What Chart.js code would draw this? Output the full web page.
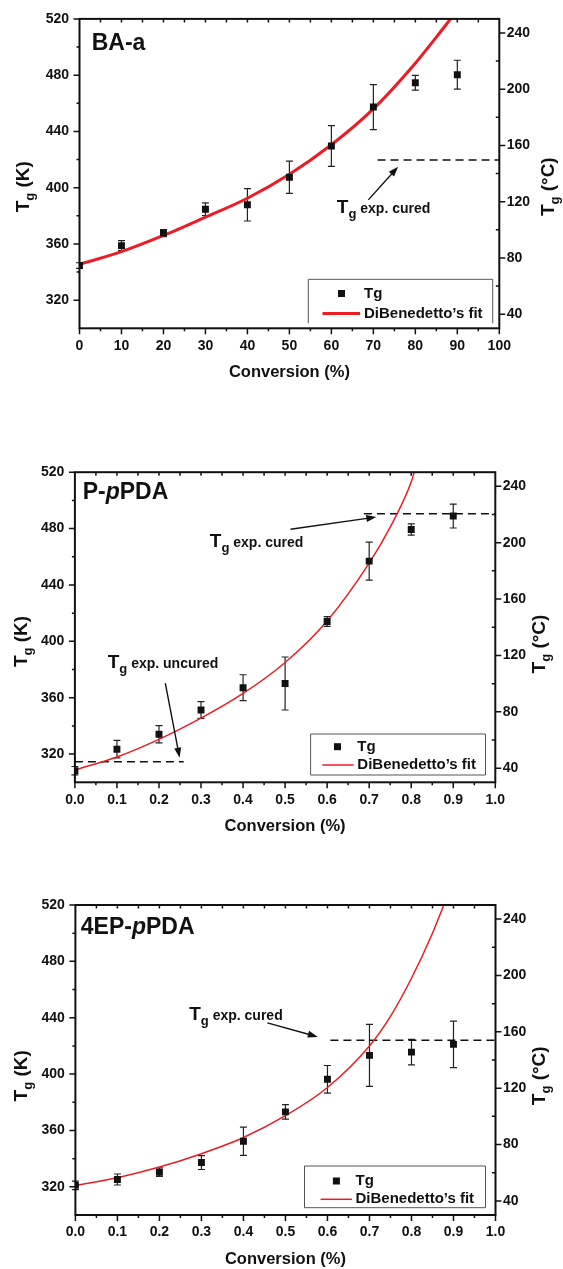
<!DOCTYPE html>
<html>
<head>
<title>Tg versus conversion</title>
<style>
  body { margin: 0; background: #fff; }
  .panel { position: absolute; left: 0; }
</style>
<script src="https://cdn.jsdelivr.net/npm/chart.js"></script>
</head>
<body>
<canvas id="chartBA" class="panel" width="563" height="400" style="top:0px"></canvas>
<canvas id="chartPP" class="panel" width="563" height="400" style="top:440px"></canvas>
<canvas id="chartEP" class="panel" width="563" height="399" style="top:870px"></canvas>
<script>
const FONT = "'Liberation Sans', Arial, Helvetica, sans-serif";
const INK = '#111';
const RED = '#ed1c24';

// tick values
const kTicks = [320, 360, 400, 440, 480, 520];
const cTicks = [40, 80, 120, 160, 200, 240];
const pctTicks = [0, 10, 20, 30, 40, 50, 60, 70, 80, 90, 100];
const fracTicks = [0, 0.1, 0.2, 0.3, 0.4, 0.5, 0.6, 0.7, 0.8, 0.9, 1.0];

// BA-a
const baConv = [0, 10, 20, 30, 40, 50, 60, 70, 80, 90];
const baTg = [344.6, 358.8, 367.7, 384.7, 387.8, 407.4, 429.6, 457.3, 474.6, 480.3];
const baErr = [2, 3.5, 2.5, 4.5, 11.5, 11.5, 14.5, 16, 5.3, 10.3];
const baFitConv = [0, 10, 20, 30, 40, 50, 60, 70, 80, 85, 88.4];
const baFitTg = [345.5, 354.5, 366, 379, 392.5, 409.5, 430.5, 456, 488.5, 507, 520];
const baCured = 419.7;

// P-pPDA
const ppConv = [0, 0.1, 0.2, 0.3, 0.4, 0.5, 0.6, 0.7, 0.8, 0.9];
const ppTg = [308.2, 323.5, 334.1, 351.3, 367.1, 370.1, 414.1, 456.9, 479.3, 488.9];
const ppErr = [3, 6.2, 6.1, 5.9, 9.2, 18.8, 3.5, 13.5, 4, 8.5];
const ppFitConv = [0, 0.1, 0.2, 0.3, 0.4, 0.5, 0.6, 0.7, 0.75, 0.8, 0.807];
const ppFitTg = [308.7, 318, 330.5, 345.5, 363, 385, 414.5, 455.5, 481, 513, 520];
const ppCured = 490.5;
const ppUncured = 314.5;

// 4EP-pPDA
const epConv = [0, 0.1, 0.2, 0.3, 0.4, 0.5, 0.6, 0.7, 0.8, 0.9];
const epTg = [321, 325.2, 330.4, 337.2, 352.3, 373.2, 396.3, 413.3, 415.6, 421.1];
const epErr = [3, 3.9, 3, 4.9, 10, 5.2, 9.8, 22, 9.1, 16.5];
const epFitConv = [0, 0.1, 0.2, 0.3, 0.4, 0.5, 0.6, 0.7, 0.75, 0.8, 0.85, 0.877];
const epFitTg = [321, 326.5, 334, 343.5, 355, 370.5, 390.5, 420, 441, 468, 500, 520];
const epCured = 424;

// draws T with subscript g followed by the rest of the label, returns width
function tgText(ctx, x0, base, rest, bigSize, restSize, dry) {
  ctx.font = `bold ${bigSize}px ${FONT}`;
  const wT = ctx.measureText('T').width;
  if (!dry) ctx.fillText('T', x0, base);
  ctx.font = `bold 13px ${FONT}`;
  const wg = ctx.measureText('g').width;
  if (!dry) ctx.fillText('g', x0 + wT, base + 5);
  ctx.font = `bold ${restSize}px ${FONT}`;
  const wr = ctx.measureText(rest).width;
  if (!dry) ctx.fillText(rest, x0 + wT + wg, base);
  return wT + wg + wr;
}

function sideTitle(ctx, bx, cy, rest) {
  ctx.save();
  ctx.textAlign = 'left';
  ctx.textBaseline = 'alphabetic';
  const w = tgText(ctx, 0, 0, rest, 19, 19, true);
  ctx.translate(bx, cy);
  ctx.rotate(-Math.PI / 2);
  tgText(ctx, -w / 2, 0, rest, 19, 19, false);
  ctx.restore();
}

function arrow(ctx, x1, y1, x2, y2) {
  const a = Math.atan2(y2 - y1, x2 - x1);
  const c = Math.cos(a), s = Math.sin(a);
  ctx.beginPath();
  ctx.moveTo(x1, y1);
  ctx.lineTo(x2 - 6 * c, y2 - 6 * s);
  ctx.stroke();
  ctx.beginPath();
  ctx.moveTo(x2, y2);
  ctx.lineTo(x2 - 10 * c + 3.5 * s, y2 - 10 * s - 3.5 * c);
  ctx.lineTo(x2 - 10 * c - 3.5 * s, y2 - 10 * s + 3.5 * c);
  ctx.closePath();
  ctx.fill();
}

function decor(p) {
  return {
    id: 'decor',
    beforeDatasetsDraw(chart) {
      const { ctx, scales: { x, y } } = chart;
      ctx.save();
      ctx.strokeStyle = '#222';
      ctx.lineWidth = 1.2;
      ctx.beginPath();
      p.conv.forEach((c, i) => {
        const px = x.getPixelForValue(c);
        const hi = y.getPixelForValue(p.tg[i] + p.err[i]);
        const lo = y.getPixelForValue(p.tg[i] - p.err[i]);
        ctx.moveTo(px, hi); ctx.lineTo(px, lo);
        ctx.moveTo(px - 3.5, hi); ctx.lineTo(px + 3.5, hi);
        ctx.moveTo(px - 3.5, lo); ctx.lineTo(px + 3.5, lo);
      });
      ctx.stroke();
      ctx.restore();
    },
    afterDraw(chart) {
      const { ctx, chartArea: a, scales: { x, y, y2 } } = chart;
      ctx.save();
      ctx.strokeStyle = INK;
      ctx.fillStyle = INK;

      // frame
      ctx.lineWidth = 2;
      ctx.strokeRect(a.left, a.top, a.right - a.left, a.bottom - a.top);

      // major and minor tick marks
      ctx.lineWidth = 1.5;
      ctx.beginPath();
      const seg = (x1, y1, x2, y2b) => { ctx.moveTo(x1, y1); ctx.lineTo(x2, y2b); };
      const xt = p.xTicks;
      xt.forEach((v, i) => {
        const px = x.getPixelForValue(v);
        seg(px, a.bottom, px, a.bottom + 6);
        if (i > 0 && i < xt.length - 1) seg(px, a.top, px, a.top + 3.5);
        if (i < xt.length - 1) {
          const mx = x.getPixelForValue((v + xt[i + 1]) / 2);
          seg(mx, a.bottom, mx, a.bottom + 3);
          seg(mx, a.top, mx, a.top + 3.5);
        }
      });
      kTicks.forEach((v, i) => {
        const py = y.getPixelForValue(v);
        seg(a.left - 6, py, a.left, py);
        if (i < kTicks.length - 1) {
          const my = y.getPixelForValue(v + 20);
          seg(a.left - 3, my, a.left, my);
        }
      });
      cTicks.forEach((v, i) => {
        const py = y2.getPixelForValue(v);
        seg(a.right, py, a.right + 6, py);
        if (i < cTicks.length - 1) {
          const my = y2.getPixelForValue(v + 20);
          seg(a.right - 3.5, my, a.right, my);
        }
      });
      ctx.stroke();

      // arrows to the dashed reference levels
      ctx.lineWidth = 1.4;
      p.arrows.forEach(r => {
        arrow(ctx, x.getPixelForValue(r[0]), y.getPixelForValue(r[1]),
              x.getPixelForValue(r[2]), y.getPixelForValue(r[3]));
      });

      // annotation text
      ctx.textAlign = 'left';
      ctx.textBaseline = 'alphabetic';
      p.notes.forEach(n => {
        tgText(ctx, x.getPixelForValue(n.x), y.getPixelForValue(n.y), n.text, 19, 14, false);
      });

      // sample name
      let nx = p.name.x;
      p.name.parts.forEach(part => {
        ctx.font = `${part.italic ? 'italic ' : ''}bold 23px ${FONT}`;
        ctx.fillText(part.t, nx, p.name.base);
        nx += ctx.measureText(part.t).width;
      });

      // axis titles
      sideTitle(ctx, p.leftTitle.x, p.leftTitle.y, ' (K)');
      sideTitle(ctx, p.rightTitle.x, p.rightTitle.y, ' (\u00B0C)');
      ctx.font = `bold 16.5px ${FONT}`;
      ctx.textAlign = 'center';
      ctx.textBaseline = 'middle';
      ctx.fillText('Conversion (%)', (a.left + a.right) / 2, a.bottom + 44);

      // legend
      const L = p.legend;
      ctx.strokeStyle = '#555';
      ctx.lineWidth = 1;
      ctx.beginPath();
      if (L.open) {
        ctx.moveTo(L.x, L.y + L.h); ctx.lineTo(L.x, L.y);
        ctx.lineTo(L.x + L.w, L.y); ctx.lineTo(L.x + L.w, L.y + L.h);
      } else {
        ctx.rect(L.x, L.y, L.w, L.h);
      }
      ctx.stroke();
      ctx.fillStyle = INK;
      ctx.fillRect(L.mx - 3.5, L.my - 3.5, 7, 7);
      ctx.strokeStyle = RED;
      ctx.lineWidth = p.fitWidth;
      ctx.beginPath();
      ctx.moveTo(L.lx0, L.ly); ctx.lineTo(L.lx1, L.ly);
      ctx.stroke();
      ctx.font = `bold 15px ${FONT}`;
      ctx.textAlign = 'left';
      ctx.textBaseline = 'middle';
      ctx.fillText('Tg', L.tx, L.my);
      ctx.fillText('DiBenedetto\u2019s fit', L.tx, L.ly);
      ctx.restore();
    }
  };
}

function buildPanel(id, p) {
  const pts = p.conv.map((c, i) => ({ x: c, y: p.tg[i] }));
  const fit = p.fitConv.map((c, i) => ({ x: c, y: p.fitTg[i] }));
  const dashed = p.dashes.map(d => ({
    data: [{ x: d[0], y: d[2] }, { x: d[1], y: d[2] }],
    showLine: true, borderColor: INK, borderWidth: 1.5, borderDash: [8, 5],
    pointRadius: 0
  }));
  const tickFont = { size: 14, weight: 'bold', family: FONT };
  new Chart(document.getElementById(id), {
    type: 'scatter',
    data: {
      datasets: [
        { label: 'Tg', data: pts, pointStyle: 'rect', pointRadius: 4.9,
          pointBackgroundColor: INK, pointBorderWidth: 0, showLine: false },
        { label: 'DiBenedetto\u2019s fit', data: fit, showLine: true,
          borderColor: RED, borderWidth: p.fitWidth, pointRadius: 0,
          cubicInterpolationMode: 'monotone' },
        ...dashed
      ]
    },
    options: {
      responsive: false,
      animation: false,
      events: [],
      layout: { padding: { top: p.area.top, left: 0, right: 0, bottom: 0 } },
      plugins: { legend: { display: false }, tooltip: { enabled: false } },
      scales: {
        x: {
          type: 'linear', position: 'bottom', min: 0, max: p.xTicks[p.xTicks.length - 1],
          afterBuildTicks: s => { s.ticks = p.xTicks.map(v => ({ value: v })); },
          afterFit: s => { s.height = p.height - p.area.bottom; },
          grid: { display: false, drawTicks: false }, border: { display: false },
          ticks: { font: tickFont, color: INK, padding: 9, autoSkip: false, maxRotation: 0,
                   callback: p.xFmt }
        },
        y: {
          type: 'linear', position: 'left', min: 300, max: 520,
          afterBuildTicks: s => { s.ticks = kTicks.map(v => ({ value: v })); },
          afterFit: s => { s.width = p.area.left; },
          grid: { display: false, drawTicks: false }, border: { display: false },
          ticks: { font: tickFont, color: INK, padding: 10.5, autoSkip: false }
        },
        y2: {
          type: 'linear', position: 'right', min: 30, max: 250,
          afterBuildTicks: s => { s.ticks = cTicks.map(v => ({ value: v })); },
          afterFit: s => { s.width = 563 - p.area.right; },
          grid: { display: false, drawTicks: false }, border: { display: false },
          ticks: { font: tickFont, color: INK, padding: 7.5, autoSkip: false }
        }
      }
    },
    plugins: [decor(p)]
  });
}

buildPanel('chartBA', {
  height: 400,
  area: { left: 79.5, right: 499.3, top: 16.7, bottom: 328.3 },
  xTicks: pctTicks, xFmt: v => String(v),
  conv: baConv, tg: baTg, err: baErr, fitConv: baFitConv, fitTg: baFitTg, fitWidth: 3,
  dashes: [[71, 100, baCured]],
  arrows: [[68.8, 391.3, 75.9, 414.9]],
  notes: [{ x: 61.3, y: 382, text: ' exp. cured' }],
  name: { x: 91.7, base: 49.5, parts: [{ t: 'BA-a' }] },
  leftTitle: { x: 28.7, y: 186.7 },
  rightTitle: { x: 554, y: 186.7 },
  legend: { x: 308.3, y: 279.3, w: 184.4, h: 44, open: true,
            mx: 341.5, my: 293.5, tx: 364, lx0: 322.5, lx1: 360, ly: 313.5 }
});

buildPanel('chartPP', {
  height: 400,
  area: { left: 74.9, right: 495.3, top: 32.2, bottom: 342.3 },
  xTicks: fracTicks, xFmt: v => v.toFixed(1),
  conv: ppConv, tg: ppTg, err: ppErr, fitConv: ppFitConv, fitTg: ppFitTg, fitWidth: 1.5,
  dashes: [[0.6875, 1.0, ppCured], [0, 0.259, ppUncured]],
  arrows: [[0.513, 479.5, 0.717, 488.2], [0.215, 370.4, 0.249, 317.5]],
  notes: [{ x: 0.321, y: 467.2, text: ' exp. cured' }, { x: 0.078, y: 381.3, text: ' exp. uncured' }],
  name: { x: 82.7, base: 59.3, parts: [{ t: 'P-' }, { t: 'p', italic: true }, { t: 'PDA' }] },
  leftTitle: { x: 26.9, y: 201.5 },
  rightTitle: { x: 545, y: 204 },
  legend: { x: 310.6, y: 294, w: 174.9, h: 41, open: false,
            mx: 337.5, my: 306.7, tx: 357.3, lx0: 322.4, lx1: 353.7, ly: 325 }
});

buildPanel('chartEP', {
  height: 399,
  area: { left: 75.4, right: 495.5, top: 35, bottom: 345 },
  xTicks: fracTicks, xFmt: v => v.toFixed(1),
  conv: epConv, tg: epTg, err: epErr, fitConv: epFitConv, fitTg: epFitTg, fitWidth: 1.5,
  dashes: [[0.607, 1.0, epCured]],
  arrows: [[0.457, 436.3, 0.577, 426.4]],
  notes: [{ x: 0.271, y: 438.6, text: ' exp. cured' }],
  name: { x: 80.8, base: 64.3, parts: [{ t: '4EP-' }, { t: 'p', italic: true }, { t: 'PDA' }] },
  leftTitle: { x: 26.9, y: 205.8 },
  rightTitle: { x: 545, y: 205.8 },
  legend: { x: 304.5, y: 296, w: 181, h: 41.7, open: false,
            mx: 336.4, my: 311, tx: 355.5, lx0: 320.6, lx1: 351.9, ly: 329.3 }
});
</script>
</body>
</html>
